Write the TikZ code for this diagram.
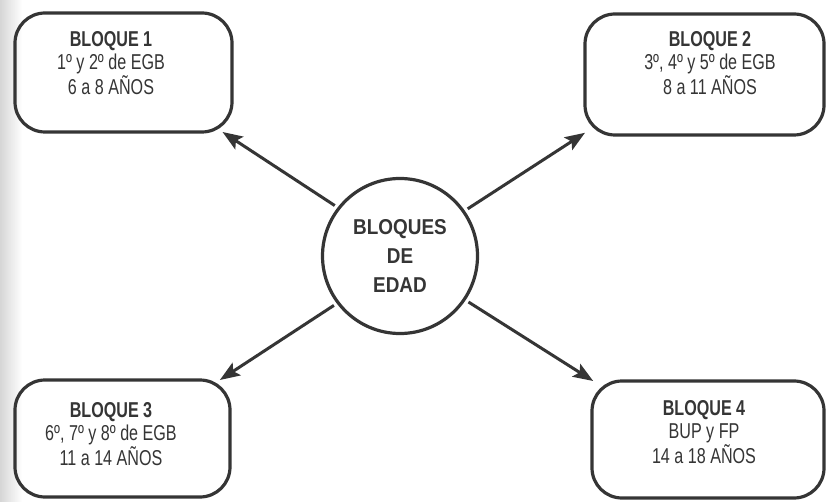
\documentclass[tikz,border=0pt]{standalone}
\usepackage{fontspec}
\setmainfont{Liberation Sans}
\newfontfamily\boxfont[FakeStretch=0.75]{Liberation Sans}
\newfontfamily\circfont[FakeStretch=0.88]{Liberation Sans}
\usetikzlibrary{arrows.meta}
\definecolor{ink}{HTML}{353535}
\tikzset{
  blockbox/.style={draw=ink, line width=3.2pt, rounded corners=30pt, rectangle, inner sep=0pt, outer sep=0pt},
  blocktext/.style={text=ink, align=center, inner sep=0pt, font=\boxfont\fontsize{21.5}{23}\selectfont},
  hub/.style={draw=ink, line width=3.2pt, circle, minimum size=155pt, inner sep=0pt, outer sep=0pt, text=ink, align=center, font=\circfont\bfseries\fontsize{21.5}{29}\selectfont},
  link/.style={draw=ink, line width=3pt, -{Stealth[length=20pt, width=15pt, inset=4pt]}, shorten <=5pt}
}
\begin{document}
\begin{tikzpicture}[x=1pt, y=-1pt]
\useasboundingbox (0,0) rectangle (826,502);
\fill[white] (0,0) rectangle (826,502);
\shade[left color=black!20, right color=white, opacity=0.8] (0,0) rectangle (22,502);

\node[blockbox, minimum width=217pt, minimum height=119pt] (b1) at (123.5,72.5) {};
\node[blockbox, minimum width=239pt, minimum height=121pt] (b2) at (704.5,74.5) {};
\node[blockbox, minimum width=215pt, minimum height=117pt] (b3) at (122.5,438.5) {};
\node[blockbox, minimum width=232pt, minimum height=117pt] (b4) at (708,439.5) {};

\node[blocktext] (t1) at (111,63) {\textbf{BLOQUE 1}\\1º y 2º de EGB\\6 a 8 AÑOS};
\node[blocktext] (t2) at (710,63) {\textbf{BLOQUE 2}\\3º, 4º y 5º de EGB\\8 a 11 AÑOS};
\node[blocktext] (t3) at (111,434) {\textbf{BLOQUE 3}\\6º, 7º y 8º de EGB\\11 a 14 AÑOS};
\node[blocktext] (t4) at (704,432) {\textbf{BLOQUE 4}\\BUP y FP\\14 a 18 AÑOS};

\node[hub] (c) at (400,256) {BLOQUES\\DE\\EDAD};

\draw[link] (c.142) -- (b1.-31.7);
\draw[link] (c.35.5) -- (b2.206);
\draw[link] (c.217.4) -- (b3.31);
\draw[link] (c.-34.2) -- (b4.153.6);
\end{tikzpicture}
\end{document}
